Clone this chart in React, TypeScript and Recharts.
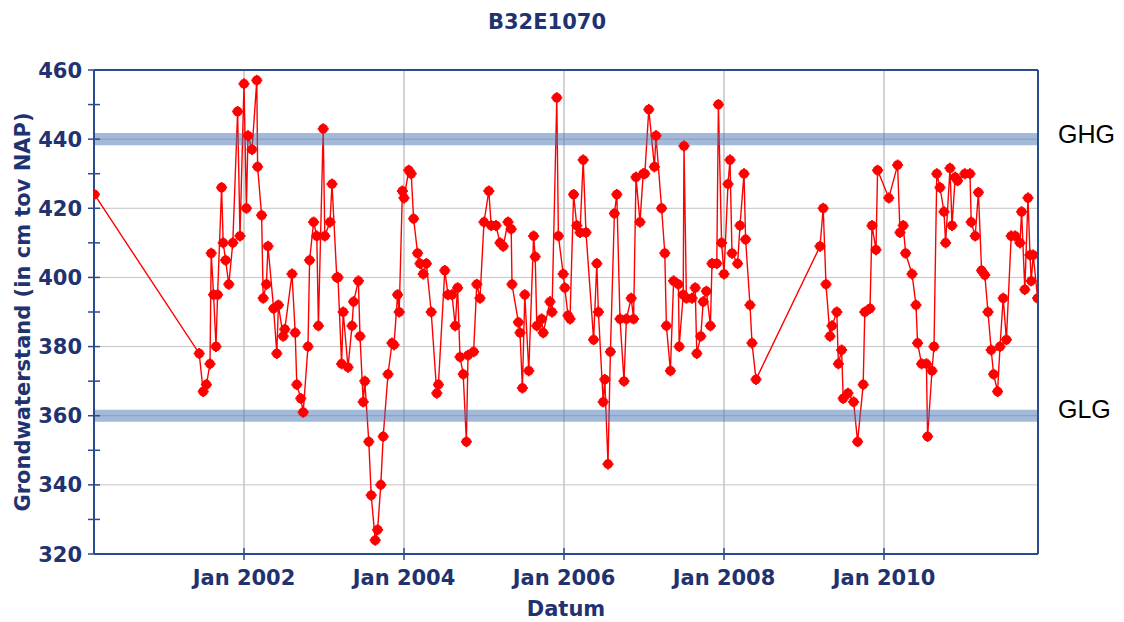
import React from 'react';
import {
  ComposedChart,
  Line,
  XAxis,
  YAxis,
  ReferenceLine,
  ReferenceArea,
  Label,
} from 'recharts';

// meetdatum als decimaal jaartal, grondwaterstand in cm t.o.v. NAP
const measuredAt = [
  2000.13, 2001.44, 2001.49, 2001.53, 2001.575, 2001.59, 2001.62, 2001.65, 2001.67, 2001.72,
  2001.74, 2001.77, 2001.81, 2001.86, 2001.92, 2001.95, 2002.0, 2002.03, 2002.05, 2002.1,
  2002.16, 2002.17, 2002.22, 2002.24, 2002.28, 2002.3, 2002.37, 2002.41, 2002.43, 2002.49,
  2002.51, 2002.6, 2002.64, 2002.66, 2002.71, 2002.74, 2002.8, 2002.82, 2002.87, 2002.91,
  2002.93, 2002.99, 2003.01, 2003.075, 2003.1, 2003.16, 2003.175, 2003.22, 2003.24, 2003.3,
  2003.35, 2003.37, 2003.43, 2003.45, 2003.49, 2003.51, 2003.56, 2003.59, 2003.64, 2003.67,
  2003.71, 2003.74, 2003.8, 2003.85, 2003.875, 2003.92, 2003.94, 2003.98, 2004.0, 2004.06,
  2004.09, 2004.12, 2004.17, 2004.2, 2004.24, 2004.28, 2004.34, 2004.41, 2004.43, 2004.51,
  2004.55, 2004.6, 2004.64, 2004.67, 2004.7, 2004.74, 2004.78, 2004.8, 2004.87, 2004.91,
  2004.95, 2005.0, 2005.06, 2005.09, 2005.15, 2005.2, 2005.24, 2005.3, 2005.34, 2005.35,
  2005.43, 2005.45, 2005.48, 2005.51, 2005.56, 2005.62, 2005.64, 2005.66, 2005.72, 2005.74,
  2005.825, 2005.85, 2005.91, 2005.93, 2005.99, 2006.01, 2006.05, 2006.075, 2006.12, 2006.16,
  2006.2, 2006.24, 2006.275, 2006.37, 2006.41, 2006.43, 2006.49, 2006.51, 2006.55, 2006.58,
  2006.63, 2006.66, 2006.7, 2006.75, 2006.78, 2006.84, 2006.87, 2006.9, 2006.95, 2006.99,
  2007.01, 2007.06, 2007.13, 2007.15, 2007.22, 2007.26, 2007.28, 2007.33, 2007.37, 2007.43,
  2007.44, 2007.49, 2007.5, 2007.53, 2007.6, 2007.64, 2007.66, 2007.71, 2007.74, 2007.78,
  2007.83, 2007.85, 2007.91, 2007.93, 2007.97, 2008.0, 2008.05, 2008.075, 2008.1, 2008.17,
  2008.2, 2008.25, 2008.27, 2008.325, 2008.35, 2008.4, 2009.2, 2009.24, 2009.275, 2009.325,
  2009.35, 2009.41, 2009.43, 2009.47, 2009.49, 2009.55, 2009.62, 2009.67, 2009.74, 2009.76,
  2009.825, 2009.85, 2009.9, 2009.92, 2010.06, 2010.17, 2010.2, 2010.24, 2010.27, 2010.35,
  2010.4, 2010.42, 2010.47, 2010.53, 2010.545, 2010.6, 2010.625, 2010.66, 2010.7, 2010.75,
  2010.77, 2010.825, 2010.85, 2010.89, 2010.92, 2011.01, 2011.075, 2011.09, 2011.14, 2011.18,
  2011.22, 2011.26, 2011.3, 2011.34, 2011.37, 2011.42, 2011.45, 2011.49, 2011.53, 2011.59,
  2011.64, 2011.7, 2011.72, 2011.76, 2011.8, 2011.825, 2011.84, 2011.865, 2011.92,
];

const levelCm = [
  424, 378, 367, 369, 375, 407, 395, 380, 395, 426,
  410, 405, 398, 410, 448, 412, 456, 420, 441, 437,
  457, 432, 418, 394, 398, 409, 391, 378, 392, 383,
  385, 401, 384, 369, 365, 361, 380, 405, 416, 412,
  386, 443, 412, 416, 427, 400, 400, 375, 390, 374,
  386, 393, 399, 383, 364, 370, 352.5, 337, 324, 327,
  340, 354, 372, 381, 380.5, 395, 390, 425, 423, 431,
  430, 417, 407, 404, 401, 404, 390, 366.5, 369, 402,
  395, 395, 386, 397, 377, 372, 352.5, 377.5, 378.5, 398,
  394, 416, 425, 415, 415, 410, 409, 416, 414, 398,
  387, 384, 368, 395, 373, 412, 406, 386, 388, 384,
  393, 390, 452, 412, 401, 397, 389, 388, 424, 415,
  413, 434, 413, 382, 404, 390, 364, 370.5, 346, 378.5,
  418.5, 424, 388, 370, 388, 394, 388, 429, 416, 430,
  430, 448.6, 432, 441, 420, 407, 386, 373, 399, 398,
  380, 395, 438, 394, 394, 397, 378, 383, 393, 396,
  386, 404, 404, 450, 410, 401, 427, 434, 407, 404,
  415, 430, 411, 392, 381, 370.5, 409, 420, 398, 383,
  386, 390, 375, 379, 365, 366.5, 364, 352.5, 369, 390,
  391, 415, 408, 431, 423, 432.5, 413, 415, 407, 401,
  392, 381, 375, 375, 354, 373, 380, 430, 426, 419,
  410, 431.6, 415, 429, 428, 430, 430, 416, 412, 424.6,
  402, 400.7, 390, 379, 372, 367, 380, 394, 382, 412,
  412, 410, 419, 396.5, 423, 406.5, 399, 406.5, 394,
];

const yearTicks = [2002, 2004, 2006, 2008, 2010];
const levelTicks = [320, 330, 340, 350, 360, 370, 380, 390, 400, 410, 420, 430, 440, 450, 460];
const gridLevels = [340, 360, 380, 400, 420, 440];
const ghg = 440;
const glg = 360;

const X_MIN = 2000.125;
const X_MAX = 2011.925;

const AXIS = '#2a4b8d';
const TEXT = '#1f3370';
const GRID = '#c4c4c4';
const BAND = '#4773b3';
const FONT = '"DejaVu Sans", Verdana, sans-serif';

const data = measuredAt.map((t, i) => ({ t, level: levelCm[i] }));

// blokje met afgeschuinde hoeken en kleine uitsteeksels, zoals in de bron
const MarkerDot = (props: any) => {
  const { cx, cy } = props;
  if (cx == null || cy == null) return null;
  const a = 4.5;
  const b = 2.2;
  const pts = [
    [cx - b, cy - a], [cx + b, cy - a], [cx + a, cy - b], [cx + a, cy + b],
    [cx + b, cy + a], [cx - b, cy + a], [cx - a, cy + b], [cx - a, cy - b],
  ].map((p) => p.join(',')).join(' ');
  return (
    <g>
      <polygon points={pts} fill="#ff0000" />
      <rect x={cx - 5.5} y={cy - 1} width={11} height={2} fill="#ff0000" />
      <rect x={cx - 1} y={cy - 5.5} width={2} height={11} fill="#ff0000" />
    </g>
  );
};

// tick: streepje door de as heen, label alleen bij elke 20 cm
const LevelTick = (props: any) => {
  const { x, y, payload } = props;
  const axisX = x + 12;
  return (
    <g>
      <line x1={axisX - 6} x2={axisX + 6} y1={y} y2={y} stroke={AXIS} strokeWidth={1.5} />
      {payload.value % 20 === 0 && (
        <text x={x} y={y} dy={7.5} textAnchor="end" fill={TEXT} fontFamily={FONT} fontWeight="bold" fontSize={21}>
          {payload.value}
        </text>
      )}
    </g>
  );
};

const YearTick = (props: any) => {
  const { x, y, payload } = props;
  const axisY = y - 12;
  return (
    <g>
      <line x1={x} x2={x} y1={axisY - 6} y2={axisY + 6} stroke={AXIS} strokeWidth={1.5} />
      <text x={x} y={y} dy={19} textAnchor="middle" fill={TEXT} fontFamily={FONT} fontWeight="bold" fontSize={21}>
        {`Jan ${payload.value}`}
      </text>
    </g>
  );
};

const App = () => {
  return (
    <div style={{ position: 'absolute', left: 0, top: 0, width: 1124, height: 622, background: '#fff' }}>
      <div
        style={{
          position: 'absolute',
          left: 0,
          top: 12,
          width: 1094,
          textAlign: 'center',
          fontFamily: FONT,
          fontWeight: 'bold',
          fontSize: 21,
          lineHeight: '21px',
          color: TEXT,
        }}
      >
        B32E1070
      </div>
      <ComposedChart
        width={1124}
        height={622}
        data={data}
        margin={{ top: 70, right: 86, bottom: 0, left: 0 }}
      >
        <XAxis
          dataKey="t"
          type="number"
          domain={[X_MIN, X_MAX]}
          allowDataOverflow
          ticks={yearTicks}
          interval={0}
          height={68}
          tickSize={6}
          tickMargin={6}
          tickLine={false}
          axisLine={{ stroke: AXIS, strokeWidth: 2 }}
          tick={<YearTick />}
        >
          <Label
            content={(p: any) => {
              const vb = p.viewBox || { x: 94, width: 944, y: 554 };
              return (
                <text
                  x={vb.x + vb.width / 2}
                  y={vb.y + 62}
                  textAnchor="middle"
                  fill={TEXT}
                  fontFamily={FONT}
                  fontWeight="bold"
                  fontSize={21}
                >
                  Datum
                </text>
              );
            }}
          />
        </XAxis>
        <YAxis
          type="number"
          domain={[320, 460]}
          allowDataOverflow
          ticks={levelTicks}
          interval={0}
          width={94}
          tickSize={6}
          tickMargin={6}
          tickLine={false}
          axisLine={{ stroke: AXIS, strokeWidth: 2 }}
          tick={<LevelTick />}
        >
          <Label
            content={(p: any) => {
              const vb = p.viewBox || { x: 0, y: 70, height: 484 };
              const cx = vb.x + 30;
              const cy = vb.y + vb.height / 2;
              return (
                <text
                  x={cx}
                  y={cy}
                  transform={`rotate(-90, ${cx}, ${cy})`}
                  textAnchor="middle"
                  fill={TEXT}
                  fontFamily={FONT}
                  fontWeight="bold"
                  fontSize={21}
                >
                  Grondwaterstand (in cm tov NAP)
                </text>
              );
            }}
          />
        </YAxis>

        {gridLevels.map((v) => (
          <ReferenceLine key={`gy-${v}`} y={v} stroke={GRID} strokeWidth={1} zIndex={-50} />
        ))}
        {yearTicks.map((v) => (
          <ReferenceLine key={`gx-${v}`} x={v} stroke={GRID} strokeWidth={1.5} zIndex={-50} />
        ))}

        <Line
          type="linear"
          dataKey="level"
          stroke="#ff0000"
          strokeWidth={1.4}
          dot={(p: any) => <MarkerDot key={`dot-${p.index}`} {...p} />}
          activeDot={false}
          isAnimationActive={false}
        />

        <ReferenceArea y1={ghg - 1.75} y2={ghg + 1.75} fill={BAND} fillOpacity={0.5} stroke="none" zIndex={450} />
        <ReferenceArea y1={glg - 1.75} y2={glg + 1.75} fill={BAND} fillOpacity={0.5} stroke="none" zIndex={450} />

        <ReferenceLine y={460} stroke={AXIS} strokeWidth={2} zIndex={500} />
        <ReferenceLine x={X_MAX} stroke={AXIS} strokeWidth={2} zIndex={500} />
      </ComposedChart>
      <div
        style={{
          position: 'absolute',
          left: 1058,
          top: 122,
          fontFamily: '"Liberation Sans", Arial, sans-serif',
          fontSize: 25,
          lineHeight: '25px',
          color: '#000',
        }}
      >
        GHG
      </div>
      <div
        style={{
          position: 'absolute',
          left: 1058,
          top: 397,
          fontFamily: '"Liberation Sans", Arial, sans-serif',
          fontSize: 25,
          lineHeight: '25px',
          color: '#000',
        }}
      >
        GLG
      </div>
    </div>
  );
};

export default App;
